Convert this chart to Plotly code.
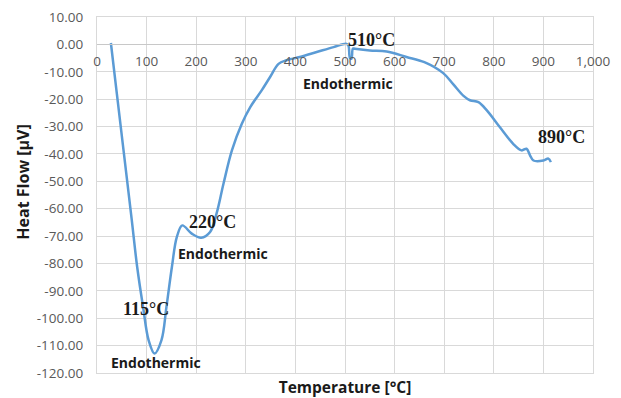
import plotly.graph_objects as go

# DTA curve: temperature (°C) vs heat flow (µV)
temperature = [28, 40, 55, 70, 81, 93, 104, 116, 130, 140, 151, 161, 172,
               191, 210, 228, 241, 255, 272, 292, 309, 332, 349, 366, 382, 409,
               443, 477, 503, 507, 510, 513, 516, 520, 550, 584, 624, 660, 698,
               718, 739, 752, 769, 786, 812, 839, 856, 866, 873, 880, 900, 910, 915]
heat_flow = [0.5, -18.0, -41.0, -64.0, -81.3, -96.0, -108.0, -112.9,
             -108.0, -95.9, -81.3, -70.3, -66.1, -69.1, -70.6, -68.5, -61.8, -50.9,
             -38.7, -29.0, -22.9, -16.8, -11.9, -7.1, -5.8, -4.6, -2.8, -1.0, 0.2,
             -0.5, -5.0, -5.2, -1.5, -1.6, -2.2, -2.6, -4.6, -6.5, -10.5, -14.5,
             -18.8, -20.4, -21.1, -24.1, -30.2, -36.3, -38.7, -38.1, -40.5, -42.4,
             -42.4, -41.7, -43.0]

# peak labels: (text, x, y)
peak_labels = [("510°C", 554, 1.5), ("115°C", 98, -96.5), ("220°C", 233, -64.9),
               ("890°C", 936, -33.8)]
endo_labels = [("Endothermic", 506, -14.4), ("Endothermic", 255, -76.4),
               ("Endothermic", 119, -116.0)]

y_ticks = [10, 0, -10, -20, -30, -40, -50, -60, -70, -80, -90, -100, -110, -120]
y_tick_text = ["10.00", "0.00", "-10.00", "-20.00", "-30.00", "-40.00", "-50.00",
               "-60.00", "-70.00", "-80.00", "-90.00", "-100.00", "-110.00", "-120.00"]
x_ticks = [0, 100, 200, 300, 400, 500, 600, 700, 800, 900, 1000]
x_tick_text = ["0", "100", "200", "300", "400", "500", "600", "700", "800", "900", "1,000"]

GRID = "#d9d9d9"
TICK_FONT = dict(family="Open Sans", size=13.5, color="#595959")
TITLE_FONT = dict(family="Open Sans", size=16, color="#1a1a1a")

fig = go.Figure()
fig.add_trace(go.Scatter(
    x=temperature, y=heat_flow, mode="lines",
    line=dict(color="#5b9bd5", width=2.5, shape="spline", smoothing=1.0),
    showlegend=False, hoverinfo="skip",
))
# carrier trace for the tick-label axis that crosses at y = 0
fig.add_trace(go.Scatter(x=[], y=[], xaxis="x2", showlegend=False))

for text, x, y in peak_labels:
    fig.add_annotation(x=x, y=y, text=f"<b>{text}</b>", showarrow=False,
                       font=dict(family="Liberation Serif", size=18, color="#1a1a1a"))
for text, x, y in endo_labels:
    fig.add_annotation(x=x, y=y, text=f"<b>{text}</b>", showarrow=False,
                       font=dict(family="Open Sans", size=14, color="#1a1a1a"))

# vertical axis title, set a little above the plot centre
fig.add_annotation(xref="paper", yref="paper", x=-0.151, y=0.535,
                   xanchor="center", yanchor="middle",
                   text="<b>Heat Flow [µV]</b>", textangle=-90, showarrow=False,
                   font=TITLE_FONT)

y_min, y_max = -120, 10
fig.update_layout(
    width=621, height=398,
    margin=dict(l=97, r=28, t=17, b=25, autoexpand=False),
    paper_bgcolor="white", plot_bgcolor="white",
    xaxis=dict(range=[0, 1000], tickvals=x_ticks, showticklabels=False,
               showgrid=True, gridcolor=GRID, gridwidth=1.3,
               showline=True, mirror=True, linecolor=GRID, linewidth=1.3,
               zeroline=False, ticks="", automargin=False,
               title=dict(text="<b>Temperature [°C]</b>", standoff=13,
                          font=dict(family="Open Sans", size=15.5, color="#1a1a1a"))),
    xaxis2=dict(range=[0, 1000], overlaying="x", anchor="free",
                position=(0 - y_min) / (y_max - y_min),
                tickvals=x_ticks, ticktext=x_tick_text, tickfont=TICK_FONT,
                ticks="outside", ticklen=4, tickcolor="rgba(0,0,0,0)",
                showgrid=False, zeroline=False, automargin=False,
                showline=True, linecolor="#c8c8c8", linewidth=1.3),
    yaxis=dict(range=[y_min, y_max], tickvals=y_ticks, ticktext=y_tick_text,
               tickfont=TICK_FONT, showgrid=True, gridcolor=GRID, gridwidth=1.3,
               zeroline=False, ticks="outside", ticklen=10, automargin=False,
               tickcolor="rgba(0,0,0,0)", showline=True, mirror=True,
               linecolor=GRID, linewidth=1.3),
)

fig.write_html("out.html")
